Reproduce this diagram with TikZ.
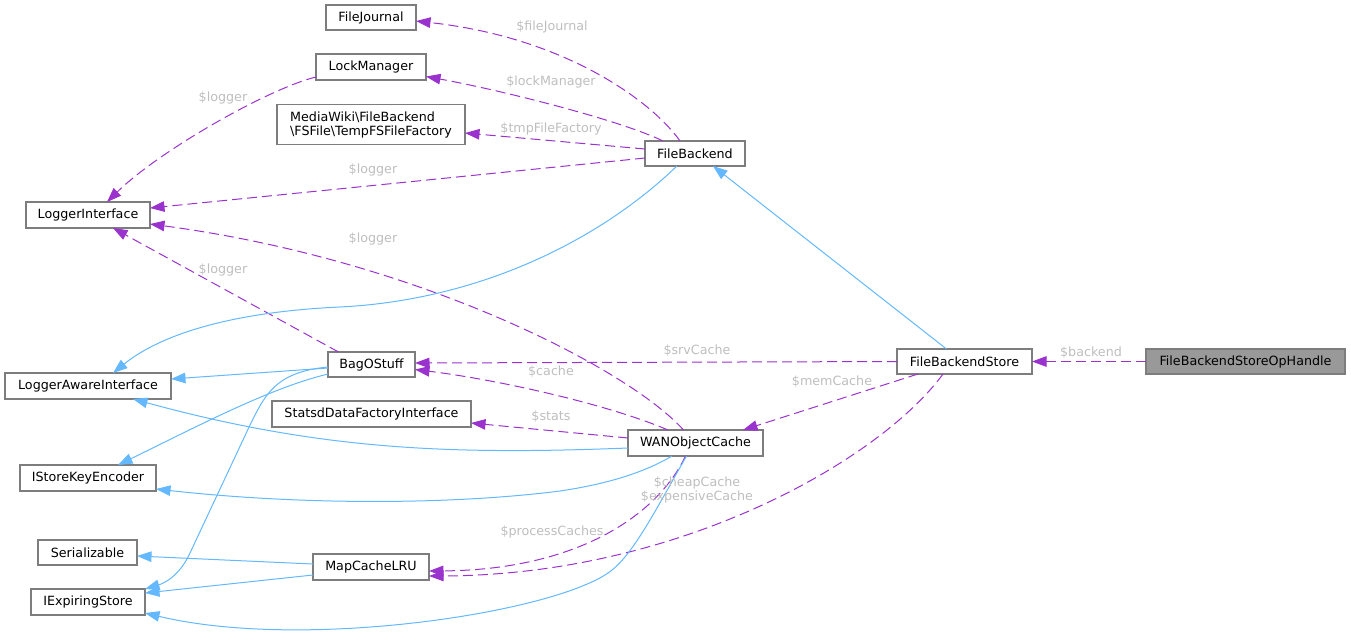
\documentclass[tikz,border=0pt]{standalone}
\usepackage{fontspec}
\setmainfont{DejaVu Sans}
\usetikzlibrary{arrows.meta}
\definecolor{edgepurple}{RGB}{154,50,205}
\definecolor{edgeblue}{RGB}{99,184,255}
\definecolor{boxborder}{RGB}{125,125,125}
\definecolor{labelgrey}{RGB}{190,190,190}
\definecolor{hlfill}{RGB}{153,153,153}
\begin{document}
\begin{tikzpicture}[x=1pt,y=-1pt,
  box/.style={draw=boxborder, line width=1.2pt, fill=white, inner sep=0pt, outer sep=0pt,
              font=\fontsize{12.7}{14}\selectfont, text=black},
  usage/.style={draw=edgepurple, line width=1pt, dash pattern=on 10pt off 5pt,
                -{Triangle[length=14.5pt,width=10.5pt]}},
  inherit/.style={draw=edgeblue, line width=1pt, -{Triangle[length=14.5pt,width=10.5pt]}},
  lbl/.style={text=labelgrey, font=\fontsize{12.7}{14}\selectfont, inner sep=0pt, align=center}]
\useasboundingbox (0,0) rectangle (1351,641);

% nodes
\node[box, minimum width=90pt, minimum height=25pt] (fj) at (371,17.5) {FileJournal};
\node[box, minimum width=110pt, minimum height=26pt] (lm) at (371,67) {LockManager};
\node[box, minimum width=188pt, minimum height=40pt, align=left] (tf) at (371,124.5)
  {MediaWiki\textbackslash{}FileBackend\\\textbackslash{}FSFile\textbackslash{}TempFSFileFactory};
\node[box, minimum width=124pt, minimum height=26pt] (li) at (88,215) {LoggerInterface};
\node[box, minimum width=100pt, minimum height=25pt] (fb) at (695,153.5) {FileBackend};
\node[box, minimum width=135pt, minimum height=25pt] (fbs) at (964.5,361.5) {FileBackendStore};
\node[box, minimum width=199pt, minimum height=25pt, fill=hlfill] (op) at (1245.5,361.5) {FileBackendStoreOpHandle};
\node[box, minimum width=166pt, minimum height=26pt] (lai) at (88,386) {LoggerAwareInterface};
\node[box, minimum width=87pt, minimum height=25pt] (bag) at (371.5,364.5) {BagOStuff};
\node[box, minimum width=199pt, minimum height=26pt] (sd) at (371.5,414) {StatsdDataFactoryInterface};
\node[box, minimum width=135pt, minimum height=26pt] (wan) at (695.5,443) {WANObjectCache};
\node[box, minimum width=136pt, minimum height=26pt] (ske) at (88,478) {IStoreKeyEncoder};
\node[box, minimum width=99pt, minimum height=25pt] (ser) at (87.5,552.5) {Serializable};
\node[box, minimum width=116pt, minimum height=26pt] (mc) at (371,567) {MapCacheLRU};
\node[box, minimum width=114pt, minimum height=26pt] (ies) at (88,602) {IExpiringStore};

% usage (dashed purple) edges
\draw[usage] ([xshift=-15pt]fb.north) .. controls (655,105) and (570,38) .. ([yshift=-3.5pt]fj.east);
\draw[usage] ([xshift=-32pt]fb.north) .. controls (620,120) and (500,90) .. ([yshift=-9.5pt]lm.east);
\draw[usage] ([yshift=4.5pt]fb.west) -- ([yshift=-8.5pt]tf.east);
\draw[usage] ([yshift=-4.5pt]fb.west) -- ([yshift=7pt]li.east);
\draw[usage] ([yshift=-10pt]lm.west) .. controls (270,88) and (160,150) .. ([xshift=19pt]li.north);
\draw[usage] ([xshift=-33pt]bag.north) -- ([xshift=25pt]li.south);
\draw[usage] ([xshift=-12pt]wan.north) .. controls (630,370) and (420,260) .. ([yshift=-9pt]li.east);
\draw[usage] (fbs.west) -- ([yshift=1.5pt]bag.east);
\draw[usage] ([xshift=-27.5pt]wan.north) .. controls (610,405) and (500,380) .. ([yshift=-5pt]bag.east);
\draw[usage] ([yshift=5pt]wan.west) -- ([yshift=-9pt]sd.east);
\draw[usage] ([xshift=-46.5pt]fbs.south) -- ([xshift=47.5pt]wan.north);
\draw[usage] ([xshift=-10pt]wan.south) .. controls (655,520) and (570,570) .. ([yshift=-4pt]mc.east);
\draw[usage] ([xshift=-21.5pt]fbs.south) .. controls (880,460) and (680,575) .. ([yshift=-9pt]mc.east);
\draw[usage] (op.west) -- (fbs.east);

% inheritance (solid blue) edges
\draw[inherit] ([xshift=-18pt]fbs.north) -- ([xshift=18pt]fb.south);
\draw[inherit] ([xshift=-18pt]fb.south) .. controls (600,240) and (480,300) .. (340,307)
  .. controls (230,312) and (160,335) .. ([xshift=25pt]lai.north);
\draw[inherit] ([yshift=-3.5pt]bag.west) -- ([yshift=7pt]lai.east);
\draw[inherit] ([yshift=-9.5pt]bag.west) .. controls (270,388) and (200,425) .. ([xshift=30pt]ske.north);
\draw[inherit] ([yshift=-2.5pt]bag.west) .. controls (275,372) and (265,395) .. (250,425)
  -- (190,553) .. controls (180,575) and (165,583) .. (ies.north east);
\draw[inherit] ([yshift=-5pt]wan.west) .. controls (450,455) and (320,450) .. ([xshift=45pt]lai.south);
\draw[inherit] ([xshift=-23.5pt]wan.south) .. controls (640,475) and (600,485) .. (560,491)
  .. controls (450,505) and (300,505) .. ([yshift=-11pt]ske.east);
\draw[inherit] ([xshift=-9pt]wan.south) .. controls (650,520) and (630,560) .. (605,575)
  .. controls (540,615) and (300,650) .. ([yshift=2pt]ies.south east);
\draw[inherit] ([yshift=3pt]mc.west) -- ([yshift=-3.5pt]ser.east);
\draw[inherit] ([yshift=-8pt]mc.west) -- ([yshift=9pt]ies.east);

% labels
\node[lbl] (l1) at (552,27) {\$fileJournal};
\node[lbl] (l2) at (551,82) {\$lockManager};
\node[lbl] (l3) at (551,129) {\$tmpFileFactory};
\node[lbl] (l4) at (373,170) {\$logger};
\node[lbl] (l5) at (223,98) {\$logger};
\node[lbl] (l6) at (373,239) {\$logger};
\node[lbl] (l7) at (223,270) {\$logger};
\node[lbl] (l8) at (697,351) {\$srvCache};
\node[lbl] (l9) at (551,372) {\$cache};
\node[lbl] (l10) at (551,417) {\$stats};
\node[lbl] (l11) at (832,382) {\$memCache};
\node[lbl] (l12) at (697,490) {\$cheapCache\\\$expensiveCache};
\node[lbl] (l13) at (552,532) {\$processCaches};
\node[lbl] (l14) at (1091,353) {\$backend};
\end{tikzpicture}
\end{document}
